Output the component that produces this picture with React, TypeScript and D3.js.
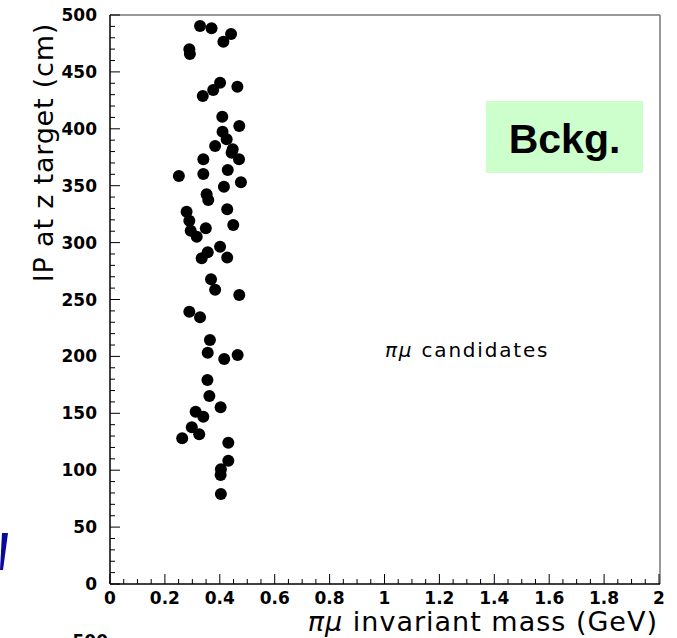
import React from "react";
import * as d3 from "d3";

const massGeV = [
  0.328, 0.370, 0.441, 0.413, 0.289, 0.291, 0.401, 0.376, 0.338, 0.464,
  0.409, 0.471, 0.410, 0.425, 0.383, 0.447, 0.443, 0.470, 0.340, 0.251,
  0.340, 0.429, 0.477, 0.415, 0.352, 0.358, 0.427, 0.279, 0.289, 0.449,
  0.294, 0.316, 0.349, 0.401, 0.356, 0.334, 0.427, 0.368, 0.383, 0.471,
  0.289, 0.328, 0.364, 0.356, 0.416, 0.465, 0.355, 0.362, 0.403, 0.312,
  0.340, 0.298, 0.263, 0.325, 0.431, 0.431, 0.404, 0.403, 0.404,
];
const ipCm = [
  490.3, 488.3, 483.3, 476.5, 469.9, 465.7, 440.5, 434.1, 428.8, 437.0,
  410.6, 402.5, 397.5, 390.8, 384.9, 382.0, 379.0, 373.2, 373.2, 358.5,
  360.3, 363.8, 353.0, 349.1, 342.4, 337.4, 329.3, 327.2, 319.2, 315.5,
  310.5, 305.2, 312.6, 296.4, 291.5, 286.2, 286.8, 267.8, 258.5, 254.0,
  239.3, 234.4, 214.4, 203.3, 197.7, 201.2, 179.3, 165.2, 155.3, 151.4,
  147.0, 137.7, 128.0, 131.5, 124.2, 108.3, 100.8, 95.8, 79.1,
];
const xMajorTicks = [0, 0.2, 0.4, 0.6, 0.8, 1, 1.2, 1.4, 1.6, 1.8, 2];
const yMajorTicks = [0, 50, 100, 150, 200, 250, 300, 350, 400, 450, 500];

const W = 677;
const H = 638;
const left = 110;
const right = 659;
const top = 15;
const bottom = 584;

export default function App() {
  const x = d3.scaleLinear().domain([0, 2]).range([left, right]);
  const y = d3.scaleLinear().domain([0, 500]).range([bottom, top]);
  const xMinor = d3.range(0, 2.0001, 0.05);
  const yMinor = d3.range(0, 500.001, 10);
  const tickFont = "'DejaVu Sans', sans-serif";
  const boxFont = "'Liberation Sans', Arial, sans-serif";
  const titleFont = "'DejaVu Sans', 'Liberation Sans', sans-serif";

  return (
    <svg
      width={W}
      height={H}
      style={{ position: "absolute", left: 0, top: 0, background: "#fff" }}
    >
      <rect x={0} y={0} width={W} height={H} fill="#fff" />
      <line x1={left} x2={right + 1} y1={top} y2={top} stroke="#777" strokeWidth={1.5} />
      <line x1={right + 1} x2={right + 1} y1={top} y2={bottom} stroke="#777" strokeWidth={1.5} />
      <line x1={left} x2={left} y1={top} y2={bottom} stroke="#000" strokeWidth={1.5} />
      <line x1={left} x2={right + 1} y1={bottom} y2={bottom} stroke="#000" strokeWidth={1.5} />
      {yMinor.map((v, i) => {
        const major = Math.abs(v % 50) < 1e-6;
        return (
          <line key={"ym" + i} x1={left} x2={left + (major ? 10 : 5)} y1={y(v)} y2={y(v)} stroke="#000" strokeWidth={1} />
        );
      })}
      {xMinor.map((v, i) => {
        const r = Math.round(v * 100) % 20;
        const major = r === 0;
        return (
          <line key={"xm" + i} x1={x(v)} x2={x(v)} y1={bottom} y2={bottom - (major ? 10 : 5)} stroke="#000" strokeWidth={1} />
        );
      })}
      {yMajorTicks.map((v) => (
        <text key={"yl" + v} x={97} y={y(v) + 6} textAnchor="end" fontFamily={tickFont} fontWeight="bold" fontSize={17} fill="#000">
          {v}
        </text>
      ))}
      {xMajorTicks.map((v) => (
        <text key={"xl" + v} x={x(v)} y={604} textAnchor="middle" fontFamily={tickFont} fontWeight="bold" fontSize={17} fill="#000">
          {String(v)}
        </text>
      ))}
      <text
        transform={`translate(53, ${(20 + 285) / 2}) rotate(-90)`}
        textAnchor="middle"
        fontFamily={titleFont}
        fontSize={27}
        letterSpacing={0.8}
        fill="#000"
      >
        IP at z target (cm)
      </text>
      <text x={658} y={631} textAnchor="end" fontFamily={titleFont} fontSize={27} letterSpacing={1} fill="#000">
        <tspan fontStyle="italic">πμ</tspan> invariant mass (GeV)
      </text>
      {massGeV.map((m, i) => (
        <circle key={"p" + i} cx={x(m)} cy={y(ipCm[i])} r={6} fill="#000" />
      ))}
      <rect x={486} y={101} width={157} height={72} fill="#ccffcc" />
      <text x={564.5} y={153} textAnchor="middle" fontFamily={boxFont} fontWeight="bold" fontSize={41} fill="#000">
        Bckg.
      </text>
      <text x={385} y={357} fontFamily={titleFont} fontSize={20} letterSpacing={1.8} fill="#000">
        <tspan fontStyle="italic">πμ</tspan> candidates
      </text>
      <polygon points="2,533 8,533 3,570 0,570" fill="#0a0a9a" />
      <text x={108} y={647} textAnchor="end" fontFamily={tickFont} fontWeight="bold" fontSize={17} fill="#000">
        500
      </text>
    </svg>
  );
}
